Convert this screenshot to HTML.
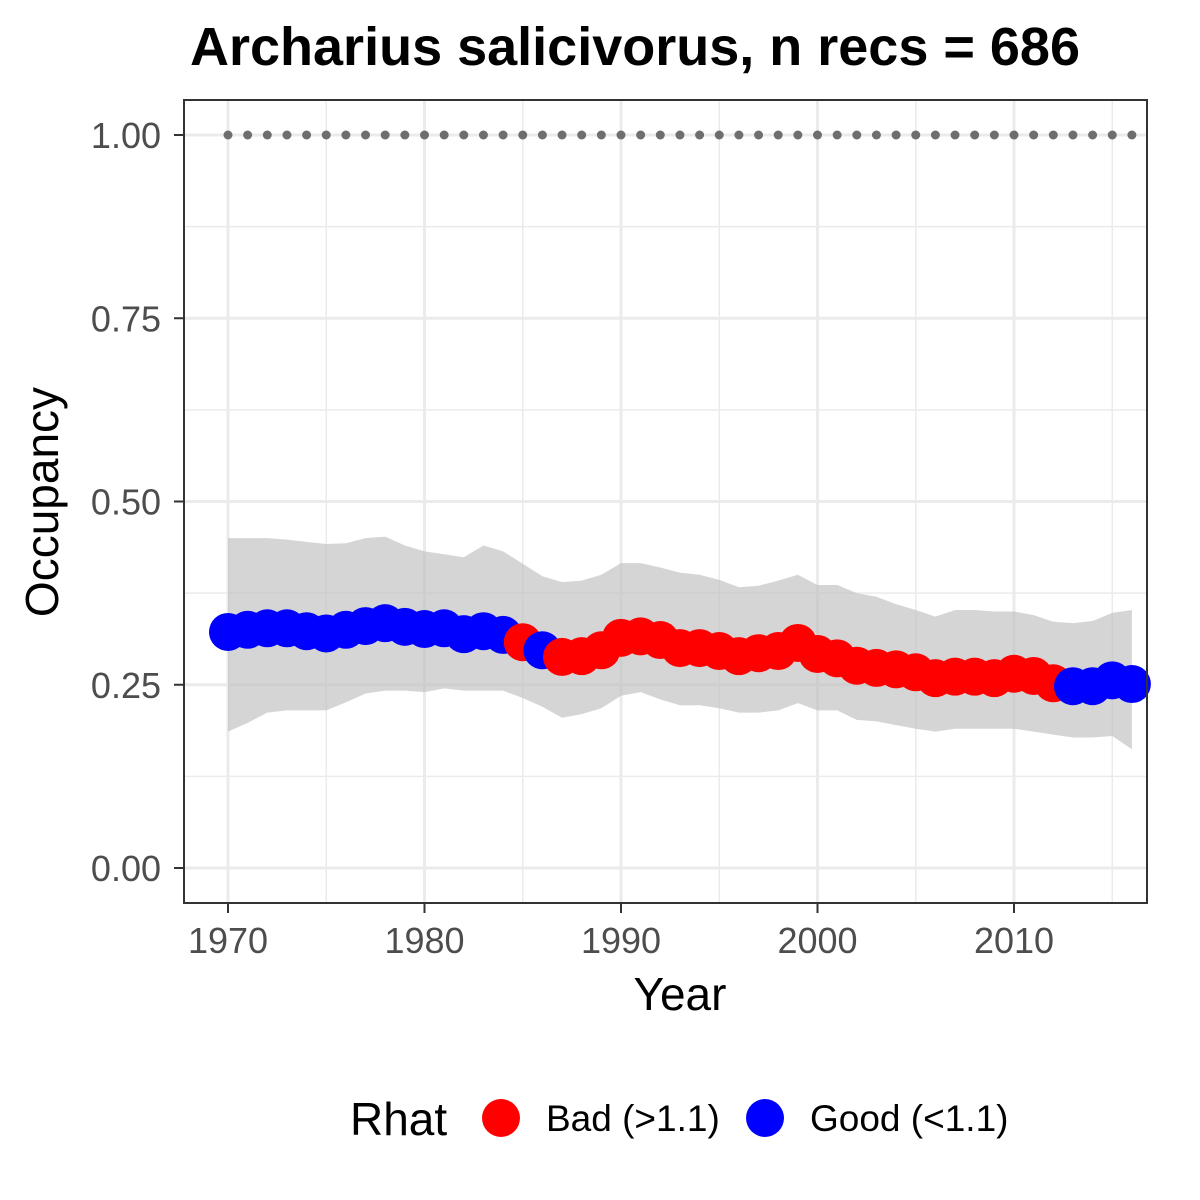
<!DOCTYPE html>
<html><head><meta charset="utf-8"><style>
body{margin:0;background:#fff}
svg{display:block;font-family:"Liberation Sans",Arial,sans-serif}
</style></head><body>
<svg id="chart" width="1200" height="1200" viewBox="0 0 1200 1200">
<text x="635" y="65" font-size="54" font-weight="bold" text-anchor="middle" fill="#000">Archarius salicivorus, n recs = 686</text>
<g id="grid"></g>
<g id="ribbon"></g>
<g id="dots"></g>
<g id="points"></g>
<rect x="184" y="100" width="963" height="803" fill="none" stroke="#333" stroke-width="2"/>
<g id="axes"></g>
<text x="680" y="1010" font-size="46" text-anchor="middle" fill="#000">Year</text>
<text transform="translate(58,502) rotate(-90)" font-size="46" text-anchor="middle" fill="#000">Occupancy</text>
<g>
<text x="350" y="1135" font-size="46" fill="#000">Rhat</text>
<g><circle cx="501" cy="1118" r="19" fill="#ff0000"/><text x="546" y="1131" font-size="37" fill="#000">Bad (&gt;1.1)</text></g>
<g><circle cx="765" cy="1118" r="19" fill="#0000ff"/><text x="810" y="1131" font-size="37" fill="#000">Good (&lt;1.1)</text></g>
</g>
</svg>
<script>
const years=[1970,1971,1972,1973,1974,1975,1976,1977,1978,1979,1980,1981,1982,1983,1984,1985,1986,1987,1988,1989,1990,1991,1992,1993,1994,1995,1996,1997,1998,1999,2000,2001,2002,2003,2004,2005,2006,2007,2008,2009,2010,2011,2012,2013,2014,2015,2016];
const occupancy=[.322,.325,.327,.327,.323,.32,.325,.33,.334,.329,.326,.327,.319,.323,.318,.308,.297,.288,.289,.297,.314,.316,.311,.30,.30,.296,.289,.293,.296,.307,.292,.286,.276,.273,.271,.267,.259,.261,.261,.259,.265,.262,.252,.248,.248,.256,.251];
const upper=[.45,.45,.45,.448,.445,.442,.443,.45,.452,.44,.432,.428,.424,.44,.432,.415,.398,.39,.392,.4,.416,.416,.41,.403,.4,.393,.383,.385,.392,.4,.386,.386,.375,.37,.36,.352,.343,.352,.352,.35,.35,.345,.336,.334,.337,.348,.352];
const lower=[.186,.198,.212,.215,.215,.215,.226,.238,.242,.242,.24,.245,.242,.242,.242,.232,.22,.205,.21,.218,.235,.24,.23,.222,.222,.218,.212,.212,.215,.225,.215,.215,.202,.2,.195,.19,.186,.19,.19,.19,.19,.186,.182,.178,.178,.18,.162];
const rhatGood=[1,1,1,1,1,1,1,1,1,1,1,1,1,1,1,0,1,0,0,0,0,0,0,0,0,0,0,0,0,0,0,0,0,0,0,0,0,0,0,0,0,0,0,1,1,1,1];
const xTicks=[1970,1980,1990,2000,2010];
const yTicks=[0,0.25,0.5,0.75,1];
const yTickLabels=["0.00","0.25","0.50","0.75","1.00"];
const refLine=1.0;

const NS="http://www.w3.org/2000/svg";
const X=y=>228+(y-1970)*19.65;
const Y=v=>868-v*733;
function mk(parent,tag,attrs){const e=document.createElementNS(NS,tag);for(const k in attrs)e.setAttribute(k,attrs[k]);document.getElementById(parent).appendChild(e);return e;}

[0.125,0.375,0.625,0.875].forEach(v=>{const l=mk('grid','line',{x1:184,x2:1147,y1:Y(v),y2:Y(v),stroke:'#ebebeb','stroke-width':1.5});

});
[1975,1985,1995,2005,2015].forEach(v=>{const l=mk('grid','line',{x1:X(v),x2:X(v),y1:100,y2:903,stroke:'#ebebeb','stroke-width':1.5});

});
yTicks.forEach(v=>{const l=mk('grid','line',{x1:184,x2:1147,y1:Y(v),y2:Y(v),stroke:'#ebebeb','stroke-width':3});

});
xTicks.forEach(v=>{const l=mk('grid','line',{x1:X(v),x2:X(v),y1:100,y2:903,stroke:'#ebebeb','stroke-width':3});

});

let d='';years.forEach((y,i)=>{d+=(i?'L':'M')+X(y)+','+Y(upper[i]);});
for(let i=years.length-1;i>=0;i--)d+='L'+X(years[i])+','+Y(lower[i]);
const rib=mk('ribbon','path',{d:d+'Z',fill:'#bebebe','fill-opacity':0.65});



years.forEach(y=>{const c=mk('dots','circle',{cx:X(y),cy:Y(refLine),r:4.5,fill:'#6e6e6e'});

});

years.forEach((y,i)=>{const c=mk('points','circle',{cx:X(y),cy:Y(occupancy[i]),r:19,fill:rhatGood[i]?'#0000ff':'#ff0000'});

});

yTicks.forEach((v,i)=>{mk('axes','line',{x1:174,x2:184,y1:Y(v),y2:Y(v),stroke:'#333','stroke-width':2});
const t=mk('axes','text',{x:161,y:Y(v)+13,'font-size':36,'text-anchor':'end',fill:'#4d4d4d'});t.textContent=yTickLabels[i];

});
xTicks.forEach(v=>{mk('axes','line',{x1:X(v),x2:X(v),y1:903,y2:913,stroke:'#333','stroke-width':2});
const t=mk('axes','text',{x:X(v),y:953,'font-size':36,'text-anchor':'middle',fill:'#4d4d4d'});t.textContent=v;

});
</script>
</body></html>
